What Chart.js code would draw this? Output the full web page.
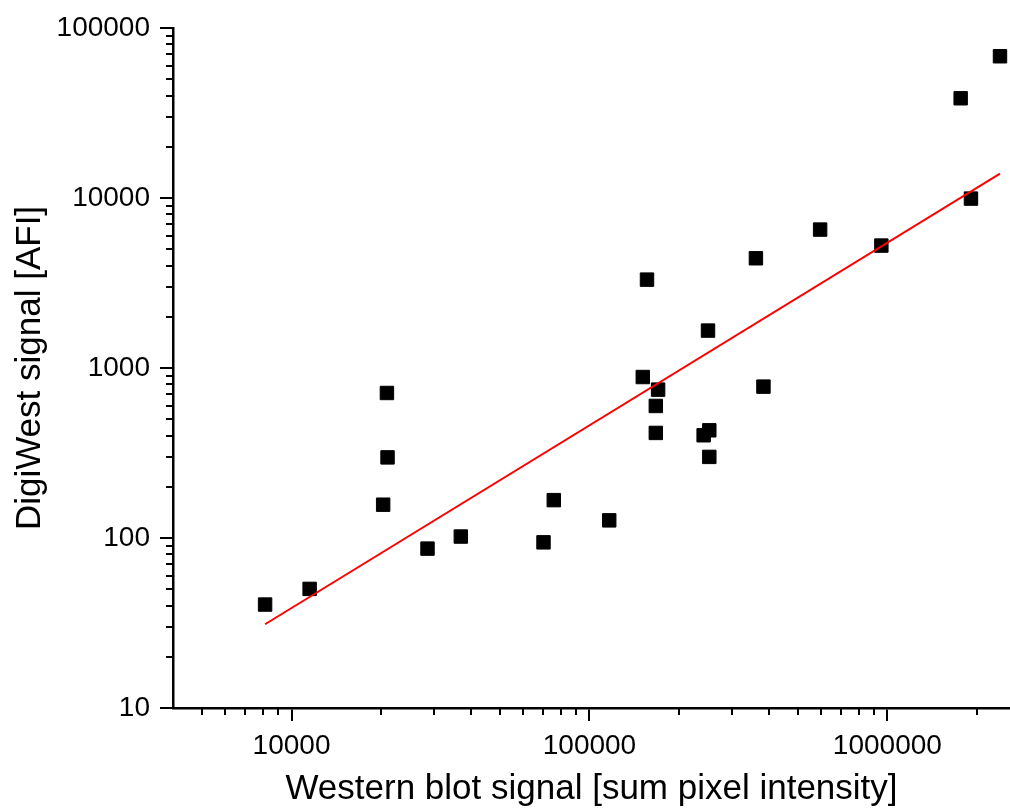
<!DOCTYPE html>
<html>
<head>
<meta charset="utf-8">
<script src="https://cdn.jsdelivr.net/npm/chart.js@4.4.0/dist/chart.umd.min.js"></script>
<style>
  html, body { margin: 0; padding: 0; background: #fff; }
  canvas { display: block; }
</style>
</head>
<body>
<canvas id="chart" width="1010" height="810"></canvas>
<script>
// Western blot (sum pixel intensity) vs DigiWest (AFI), one entry per sample
const westernBlot = [8150, 11500, 20900, 21000, 20300, 28600, 37000, 70100, 75900, 116500,
  151000, 156000, 170000, 167000, 167000, 250000, 252500, 241700, 252500, 362000,
  383700, 594700, 954500, 1762000, 1908000, 2388000];
const digiWest = [40.6, 50.2, 713, 298, 157, 86.6, 102, 94.3, 167, 127,
  885, 3310, 746, 598, 415, 1660, 430, 402, 300, 4420,
  777, 6520, 5250, 38600, 9920, 68200];

// regression line endpoints (log-log)
const fitX = [8150, 2388000];
const fitY = [31.1, 13900];

const xMajor = [10000, 100000, 1000000];
const yMajor = [10, 100, 1000, 10000, 100000];
const xRange = [4000, 2580000];
const yRange = [10, 100000];

const FONT = '"Liberation Sans", Arial, sans-serif';
Chart.defaults.font.family = FONT;
Chart.defaults.color = '#000';

function isMajor(v) {
  return Math.abs(Math.log10(v) - Math.round(Math.log10(v))) < 1e-9;
}

// majors plus 2..9 × each decade, kept inside the axis range
function logTicks(majors, lo, hi) {
  const out = [];
  const first = majors[0] / 10;
  for (let d = first; d <= hi; d *= 10) {
    for (let m = 1; m <= 9; m++) {
      const v = Math.round(d * m);
      if (v > lo && v <= hi) out.push(v);
    }
  }
  return out.map(v => ({ value: v, major: isMajor(v) }));
}

// short minor tick marks drawn outside the axes
const minorTicks = {
  id: 'minorTicks',
  afterDraw(chart) {
    const ctx = chart.ctx;
    const { left, bottom } = chart.chartArea;
    ctx.save();
    ctx.strokeStyle = '#000';
    ctx.lineWidth = 2;
    ctx.beginPath();
    chart.scales.x.ticks.forEach(t => {
      if (t.major) return;
      const px = Math.round(chart.scales.x.getPixelForValue(t.value));
      ctx.moveTo(px, bottom);
      ctx.lineTo(px, bottom + 7);
    });
    chart.scales.y.ticks.forEach(t => {
      if (t.major) return;
      const py = Math.round(chart.scales.y.getPixelForValue(t.value));
      ctx.moveTo(left, py);
      ctx.lineTo(left - 7, py);
    });
    ctx.stroke();
    ctx.restore();
  }
};

const axisCommon = {
  type: 'logarithmic',
  grid: {
    display: true,
    drawOnChartArea: false,
    drawTicks: true,
    tickLength: 13,
    lineWidth: 2,
    color: c => (c.tick && isMajor(c.tick.value)) ? '#000' : 'rgba(0,0,0,0)'
  },
  border: { display: true, color: '#000', width: 2.5 },
  ticks: {
    autoSkip: false,
    maxRotation: 0,
    font: { size: 28 },
    color: '#000',
    callback: v => isMajor(v) ? String(v) : ''
  }
};

const ctx = document.getElementById('chart').getContext('2d');
new Chart(ctx, {
  type: 'scatter',
  data: {
    datasets: [{
      label: 'Fit',
      data: fitX.map((x, i) => ({ x, y: fitY[i] })),
      showLine: true,
      borderColor: '#ff0000',
      borderWidth: 2,
      pointRadius: 0,
      order: 0
    }, {
      label: 'Samples',
      data: westernBlot.map((x, i) => ({ x, y: digiWest[i] })),
      pointStyle: 'rect',
      pointRadius: 9.5,
      backgroundColor: '#000',
      borderColor: '#000',
      borderWidth: 1,
      order: 1
    }]
  },
  options: {
    responsive: false,
    animation: false,
    devicePixelRatio: 1,
    layout: { autoPadding: false, padding: { top: 28, left: 0, right: 0, bottom: 0 } },
    plugins: {
      legend: { display: false },
      tooltip: { enabled: false }
    },
    scales: {
      x: {
        ...axisCommon,
        min: xRange[0],
        max: xRange[1],
        ticks: { ...axisCommon.ticks, padding: 8 },
        afterBuildTicks: s => { s.ticks = logTicks(xMajor, xRange[0], xRange[1]); },
        afterFit: s => {
          s.height = 102;
          s.paddingLeft = 0;
          s.paddingRight = 0;
        },
        title: {
          display: true,
          text: 'Western blot signal [sum pixel intensity]',
          font: { size: 35 },
          color: '#000',
          padding: { top: 0, bottom: 0 }
        }
      },
      y: {
        ...axisCommon,
        min: yRange[0],
        max: yRange[1],
        ticks: { ...axisCommon.ticks, padding: 10 },
        afterBuildTicks: s => { s.ticks = logTicks(yMajor, yRange[0] - 1, yRange[1]); },
        afterFit: s => { s.width = 173; },
        title: {
          display: true,
          text: 'DigiWest signal [AFI]',
          font: { size: 35 },
          color: '#000',
          padding: { top: 9, bottom: 0 }
        }
      }
    }
  },
  plugins: [minorTicks]
});
</script>
</body>
</html>
